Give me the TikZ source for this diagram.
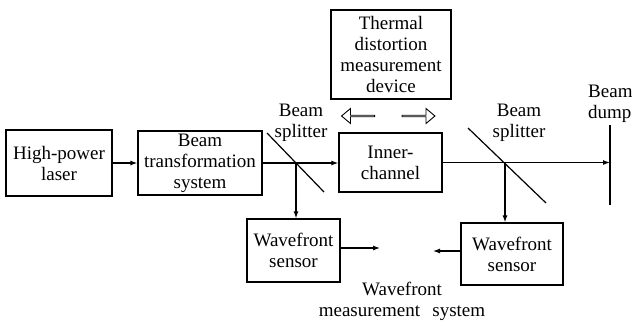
\documentclass[tikz,border=0pt]{standalone}
\usepackage{fontspec}
\setmainfont{Liberation Serif}
\usetikzlibrary{arrows.meta,shapes.arrows}
\begin{document}
\begin{tikzpicture}[x=1pt,y=-1pt,
 box/.style={draw,line width=1.2pt,align=center,inner sep=0pt,font=\rmfamily\fontsize{19}{21}\selectfont},
 lbl/.style={align=center,inner sep=0pt,font=\rmfamily\fontsize{19}{21}\selectfont},
 line/.style={line width=1.2pt},
 arr/.style={line width=1.2pt,-{Latex[length=7pt,width=5pt]}},
 hollow/.style={draw,line width=0.9pt,single arrow,minimum height=33pt,minimum width=15pt,single arrow head extend=4pt,inner sep=0pt,single arrow tip angle=80}]
\useasboundingbox (0,0) rectangle (632,325);
% boxes
\node[box,minimum width=106pt,minimum height=66pt] (laser) at (59,163) {High-power\\laser};
\node[box,minimum width=124pt,minimum height=64pt] (bts) at (200,163) {Beam\\transformation\\system};
\node[box,minimum width=103pt,minimum height=59pt] (inner) at (390.5,162.5) {Inner-\\channel};
\node[box,minimum width=120pt,minimum height=89pt] (thermal) at (391,54.5) {Thermal\\distortion\\measurement\\device};
\node[box,minimum width=93pt,minimum height=63pt] (wf1) at (293.5,250.5) {Wavefront\\sensor};
\node[box,minimum width=102pt,minimum height=62pt] (wf2) at (512,254) {Wavefront\\sensor};
% hollow arrows
\node[hollow,shape border rotate=180] (hl) at (358.5,116) {};
\node[hollow] (hr) at (418,116) {};
% labels
\node[lbl] (bs1) at (301,123) {Beam\\splitter};
\node[lbl] (bs2) at (519,123) {Beam\\splitter};
\node[lbl,align=left,anchor=west] (bd) at (588,104) {Beam\\dump};
\node[lbl] (wms) at (402,301) {Wavefront\\measurement\hspace{0.4em} system};
% splitters and dump
\coordinate (s1a) at (267,133); \coordinate (s1b) at (324,192);
\coordinate (s2a) at (468,128); \coordinate (s2b) at (546,203);
\coordinate (d1) at (610,125); \coordinate (d2) at (610,205);
\coordinate (x1) at (296,163); \coordinate (x2) at (505,163);
\draw[line] (s1a) -- (s1b);
\draw[line] (s2a) -- (s2b);
\draw[line] (d1) -- (d2);
% connectors
\draw[arr] (laser) -- (bts);
\draw[arr] (bts.east) -- (bts.east -| inner.west);
\draw[arr] (inner.east) -- (inner.east -| d1);
\draw[arr] (x1) -- (x1 |- wf1.north);
\draw[arr] (x2) -- (x2 |- wf2.north);
\coordinate (m1) at (380,248); \coordinate (m2) at (433,251);
\draw[arr] (m1 -| wf1.east) -- (m1);
\draw[arr] (m2 -| wf2.west) -- (m2);
\end{tikzpicture}
\end{document}
